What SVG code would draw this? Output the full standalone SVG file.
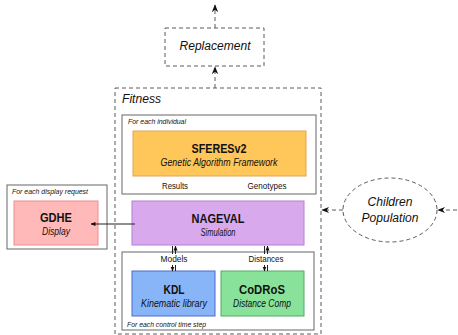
<svg xmlns="http://www.w3.org/2000/svg" width="458" height="335" viewBox="0 0 458 335">
<style>
text{font-family:"Liberation Sans",Arial,sans-serif;fill:#111}
.dash{fill:none;stroke:#5a5a5a;stroke-width:1;stroke-dasharray:4,3}
.frame{fill:#fff;stroke:#666;stroke-width:1}
.small{font-size:8px;font-style:italic}
.title{font-size:13.5px;font-weight:bold}
.sub{font-size:10px;font-style:italic}
.lbl{font-size:9.5px}
.big{font-size:12px;font-style:italic}
.conn{fill:none;stroke:#222;stroke-width:1}
</style>
<defs>
<marker id="ah" viewBox="0 0 10 10" refX="9" refY="5" markerWidth="8" markerHeight="8" orient="auto" markerUnits="userSpaceOnUse">
<path d="M0,1 L10,5 L0,9 L3,5 Z" fill="#111"/>
</marker>
<marker id="ahs" viewBox="0 0 10 10" refX="9" refY="5" markerWidth="5" markerHeight="5" orient="auto" markerUnits="userSpaceOnUse">
<path d="M0,1 L10,5 L0,9 Z" fill="#111"/>
</marker>
</defs>

<g id="replacement">
<rect class="dash" x="165" y="28" width="99" height="38"/>
<text class="big" x="215" y="50" text-anchor="middle" textLength="71" lengthAdjust="spacingAndGlyphs">Replacement</text>
</g>

<g id="fitness">
<rect class="dash" x="115" y="88" width="206" height="246"/>
<text class="big" x="122" y="103" textLength="39" lengthAdjust="spacingAndGlyphs">Fitness</text>
</g>

<g id="individual">
<rect class="frame" x="122" y="115" width="194" height="79"/>
<text class="small" x="128" y="124" textLength="58" lengthAdjust="spacingAndGlyphs">For each individual</text>
<text class="lbl" x="175" y="189" text-anchor="middle" textLength="26" lengthAdjust="spacingAndGlyphs">Results</text>
<text class="lbl" x="267" y="189" text-anchor="middle" textLength="39" lengthAdjust="spacingAndGlyphs">Genotypes</text>
</g>

<g id="sferes">
<rect x="133" y="131" width="173" height="45" fill="#ffc65a" stroke="#e3a25a"/>
<text class="title" x="219" y="153" text-anchor="middle" textLength="55" lengthAdjust="spacingAndGlyphs">SFERESv2</text>
<text class="sub" x="219" y="166" text-anchor="middle" textLength="117" lengthAdjust="spacingAndGlyphs">Genetic Algorithm Framework</text>
</g>

<g id="display-request">
<rect class="frame" x="7" y="185" width="100" height="64"/>
<text class="small" x="12" y="194" textLength="76" lengthAdjust="spacingAndGlyphs">For each display request</text>
</g>

<g id="gdhe">
<rect x="14" y="201" width="84" height="44" fill="#ffb9b9" stroke="#ee8c8c"/>
<text class="title" x="56" y="222" text-anchor="middle" textLength="32" lengthAdjust="spacingAndGlyphs">GDHE</text>
<text class="sub" x="56" y="235" text-anchor="middle" textLength="28" lengthAdjust="spacingAndGlyphs">Display</text>
</g>

<g id="nageval">
<rect x="132" y="201" width="172" height="44" fill="#d9a9ed" stroke="#b47ed2"/>
<text class="title" x="218" y="223" text-anchor="middle" textLength="53" lengthAdjust="spacingAndGlyphs">NAGEVAL</text>
<text class="sub" x="218" y="236" text-anchor="middle" textLength="35" lengthAdjust="spacingAndGlyphs">Simulation</text>
</g>

<g id="control-step">
<rect class="frame" x="122" y="252" width="192" height="78"/>
<text class="lbl" x="174" y="262" text-anchor="middle" textLength="27" lengthAdjust="spacingAndGlyphs">Models</text>
<text class="lbl" x="266" y="262" text-anchor="middle" textLength="35" lengthAdjust="spacingAndGlyphs">Distances</text>
<text class="small" x="127" y="327" textLength="79" lengthAdjust="spacingAndGlyphs">For each control time step</text>
</g>

<g id="kdl">
<rect x="132" y="271" width="83" height="45" fill="#88b5f8" stroke="#4a6ccc"/>
<text class="title" x="174" y="294" text-anchor="middle" textLength="21" lengthAdjust="spacingAndGlyphs">KDL</text>
<text class="sub" x="174" y="307" text-anchor="middle" textLength="66" lengthAdjust="spacingAndGlyphs">Kinematic library</text>
</g>

<g id="codros">
<rect x="221" y="271" width="83" height="45" fill="#88e29a" stroke="#55aa66"/>
<text class="title" x="262" y="294" text-anchor="middle" textLength="46" lengthAdjust="spacingAndGlyphs">CoDRoS</text>
<text class="sub" x="262" y="307" text-anchor="middle" textLength="58" lengthAdjust="spacingAndGlyphs">Distance Comp</text>
</g>

<g id="children">
<ellipse class="dash" cx="390" cy="210" rx="47" ry="32"/>
<text class="big" x="390" y="206" text-anchor="middle" textLength="45" lengthAdjust="spacingAndGlyphs">Children</text>
<text class="big" x="390" y="222" text-anchor="middle" textLength="57" lengthAdjust="spacingAndGlyphs">Population</text>
</g>

<g id="connectors">
<line class="dash" x1="215" y1="28" x2="215" y2="5" marker-end="url(#ah)"/>
<line class="dash" x1="215" y1="88" x2="215" y2="67" marker-end="url(#ah)"/>
<line class="dash" x1="457" y1="210" x2="438" y2="210" marker-end="url(#ah)"/>
<line class="dash" x1="343" y1="210" x2="322" y2="210" marker-end="url(#ah)"/>
<line class="conn" x1="135" y1="224" x2="91" y2="224" marker-end="url(#ahs)"/>
<line class="conn" x1="172.5" y1="254" x2="172.5" y2="246"/>
<line class="conn" x1="175.5" y1="254" x2="175.5" y2="246" marker-end="url(#ahs)"/>
<line class="conn" x1="172.5" y1="265" x2="172.5" y2="271" marker-end="url(#ahs)"/>
<line class="conn" x1="175.5" y1="265" x2="175.5" y2="271"/>
<line class="conn" x1="264.5" y1="254" x2="264.5" y2="246"/>
<line class="conn" x1="267.5" y1="254" x2="267.5" y2="246" marker-end="url(#ahs)"/>
<line class="conn" x1="264.5" y1="265" x2="264.5" y2="271" marker-end="url(#ahs)"/>
<line class="conn" x1="267.5" y1="265" x2="267.5" y2="271"/>
</g>
</svg>
